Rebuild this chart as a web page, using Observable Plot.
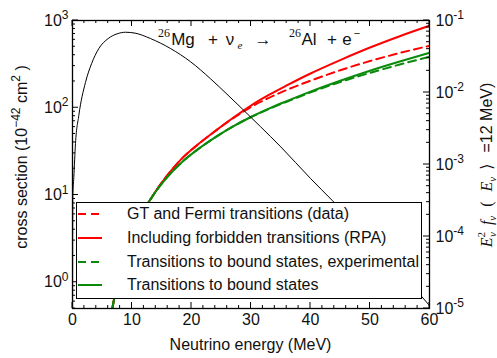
<!DOCTYPE html>
<html>
<head>
<meta charset="utf-8">
<script src="https://cdn.jsdelivr.net/npm/d3@7"></script>
<script src="https://cdn.jsdelivr.net/npm/@observablehq/plot@0.6"></script>
<style>
  body { margin: 0; background: white; }
  #chart { position: relative; width: 497px; height: 358px; font-family: "Liberation Sans", Arial, sans-serif; }
  #chart svg { position: absolute; left: 0; top: 0; }
  #legend { position: absolute; left: 76px; top: 202px; width: 346px; height: 97px; box-sizing: border-box;
            border: 1.5px solid black; background: white; font-size: 16px; color: #111; }
  .row { position: absolute; left: 0; height: 20px; line-height: 20px; white-space: nowrap; }
  .row svg { position: absolute; left: 9px; top: 0; }
  .row span { position: absolute; left: 50px; top: 0; }
</style>
</head>
<body>
<div id="chart"></div>
<script>
// ---- data ----
const energy        = [6.3, 6.7, 8, 10, 12, 13, 14, 16, 18.7, 21, 24.3, 27, 30, 33, 36, 40, 45, 50, 55, 60];
const gtFermiData   = [0.35, 0.50, 1.51, 3.98, 6.92, 8.71, 11.1, 17.0, 27.5, 37.5, 56.2, 75.9, 102, 130, 160, 204, 269, 343, 424, 513];
const forbiddenRPA  = [0.35, 0.50, 1.51, 3.98, 6.92, 8.71, 11.1, 17.0, 27.5, 37.6, 56.2, 76.7, 106, 140, 180, 247, 352, 490, 661, 871];
const boundExp      = [0.35, 0.50, 1.51, 3.98, 6.92, 8.71, 10.96, 16.2, 24.8, 33.1, 47.3, 61.1, 78.3, 96.6, 117, 150, 197, 251, 313, 385];
const boundStates   = [0.35, 0.50, 1.51, 3.98, 6.92, 8.71, 10.96, 16.2, 24.8, 33.1, 47.3, 61.1, 78.3, 97.7, 119, 153, 204, 266, 339, 427];

const specEnergy = [0.01, 0.05, 0.22, 0.5, 1.06, 2.18, 3.2, 4.42, 6, 7.5, 8.9, 10.5, 13.1, 16.5, 19.8, 23.2, 26.3, 28.5, 31.6, 35, 40, 43.6, 50, 55, 60];
const specFlux   = [1.0e-5, 3.55e-4, 6.6e-4, 1.95e-3, 4.79e-3, 0.0138, 0.0251, 0.0407, 0.0562, 0.0653, 0.0687, 0.0668, 0.0562, 0.0407, 0.0269, 0.0155, 0.00891, 0.00596, 0.00335, 0.00176, 6.4e-4, 3.2e-4, 9.2e-5, 3.25e-5, 1.1e-5];

const xTicks = [0, 10, 20, 30, 40, 50, 60];
const yLeftTicks = [1, 10, 100, 1000];
const yRightTicks = [1e-5, 1e-4, 1e-3, 1e-2, 1e-1];

const legendLabels = [
  "GT and Fermi transitions (data)",
  "Including forbidden transitions (RPA)",
  "Transitions to bound states, experimental",
  "Transitions to bound states"
];
const RED = "#ff0000", GREEN = "#0a8a0a";
const legendStyles = [
  {stroke: RED, dash: "8,5"}, {stroke: RED, dash: null},
  {stroke: GREEN, dash: "8,5"}, {stroke: GREEN, dash: null}
];

// ---- build tables ----
const mk = (vals) => energy.map((e, i) => ({e, v: vals[i]}));
const spec = specEnergy.map((e, i) => ({e, v: specFlux[i]}));

const W = 497, H = 358, ML = 72, MR = 68, MT = 20, MB = 50;
const font = '"Liberation Sans", Arial, sans-serif';
const expFmt = d => String(Math.round(Math.log10(d)));

const p1 = Plot.plot({
  width: W, height: H, marginLeft: ML, marginRight: MR, marginTop: MT, marginBottom: MB,
  style: {background: "transparent", fontFamily: font, fontSize: "16px", color: "#111", overflow: "visible"},
  x: {domain: [0, 60]},
  y: {type: "log", domain: [0.5, 1000]},
  marks: [
    Plot.axisX({ticks: xTicks, tickSize: 0, tickPadding: 5, label: null, tickFormat: d => String(d)}),
    Plot.axisY({ticks: yLeftTicks, tickSize: 0, tickPadding: 13, label: null, tickFormat: expFmt}),
    Plot.line(mk(forbiddenRPA), {x: "e", y: "v", stroke: RED, strokeWidth: 2, curve: "monotone-x", clip: true}),
    Plot.line(mk(gtFermiData), {x: "e", y: "v", stroke: RED, strokeWidth: 2, strokeDasharray: "8,5", curve: "monotone-x", clip: true}),
    Plot.line(mk(boundExp), {x: "e", y: "v", stroke: GREEN, strokeWidth: 2, strokeDasharray: "8,5", curve: "monotone-x", clip: true}),
    Plot.line(mk(boundStates), {x: "e", y: "v", stroke: GREEN, strokeWidth: 2, curve: "monotone-x", clip: true}),
    Plot.frame({stroke: "black", strokeWidth: 1.3})
  ]
});

const p2 = Plot.plot({
  width: W, height: H, marginLeft: ML, marginRight: MR, marginTop: MT, marginBottom: MB,
  style: {background: "transparent", fontFamily: font, fontSize: "16px", color: "#111", overflow: "visible"},
  x: {domain: [0, 60], axis: null},
  y: {type: "log", domain: [1e-5, 1e-1]},
  marks: [
    Plot.axisY({anchor: "right", ticks: yRightTicks, tickSize: 0, tickPadding: 6, label: null, tickFormat: expFmt}),
    Plot.line(spec, {x: "e", y: "v", stroke: "black", strokeWidth: 1, curve: "monotone-x", clip: true})
  ]
});

const chart = document.getElementById("chart");
chart.appendChild(p1);
chart.appendChild(p2);

// superscript exponents on tick labels: "10" + raised exponent
function supTicks(svg) {
  d3.select(svg).selectAll('g[aria-label="y-axis tick label"] text').each(function() {
    const t = d3.select(this);
    const e = t.text();
    t.text("10");
    t.append("tspan").attr("dy", "-0.55em").attr("font-size", "12px").text(e);
  });
}
supTicks(p1);
supTicks(p2);
d3.select(p1).selectAll('g[aria-label="y-axis tick label"] text').attr("text-anchor", "end").attr("dx", 9);

// ---- inward tick marks using the plots' scales ----
const sx = p1.scale("x"), sy = p1.scale("y"), sy2 = p2.scale("y");
const [x0, x1] = sx.range, [yb, yt] = sy.range;
const g1 = d3.select(p1).append("g").attr("stroke", "black").attr("stroke-width", 1);
const xMinor = d3.range(0, 61, 2).filter(v => v % 10 !== 0);
function vt(v, len) {
  const X = sx.apply(v);
  g1.append("line").attr("x1", X).attr("x2", X).attr("y1", yb).attr("y2", yb - len);
  g1.append("line").attr("x1", X).attr("x2", X).attr("y1", yt).attr("y2", yt + len);
}
xTicks.forEach(v => vt(v, 6));
xMinor.forEach(v => vt(v, 3));
const leftMinor = [];
[0.1, 1, 10, 100].forEach(d => { for (let k = 2; k <= 9; k++) { const v = k * d; if (v >= 0.5 && v < 1000) leftMinor.push(v); } });
yLeftTicks.forEach(v => { const Y = sy.apply(v); g1.append("line").attr("x1", x0).attr("x2", x0 + 6).attr("y1", Y).attr("y2", Y); });
leftMinor.forEach(v => { const Y = sy.apply(v); g1.append("line").attr("x1", x0).attr("x2", x0 + 3).attr("y1", Y).attr("y2", Y); });
const g2 = d3.select(p2).append("g").attr("stroke", "black").attr("stroke-width", 1);
const rightMinor = [];
[1e-5, 1e-4, 1e-3, 1e-2].forEach(d => { for (let k = 2; k <= 9; k++) rightMinor.push(k * d); });
yRightTicks.forEach(v => { const Y = sy2.apply(v); g2.append("line").attr("x1", x1).attr("x2", x1 - 6).attr("y1", Y).attr("y2", Y); });
rightMinor.forEach(v => { const Y = sy2.apply(v); g2.append("line").attr("x1", x1).attr("x2", x1 - 3).attr("y1", Y).attr("y2", Y); });

// ---- texts ----
const s2 = d3.select(p2);
const serif = '"Liberation Serif", "Times New Roman", serif';
function txt(x, y, str, o = {}) {
  const t = s2.append("text").attr("x", x).attr("y", y).attr("font-size", o.size || 17)
    .attr("font-family", o.family || font).attr("fill", "#111").text(str);
  if (o.italic) t.attr("font-style", "italic");
  return t;
}
// reaction title
txt(164, 37, "26", {size: 12, family: serif});
txt(183, 45, "Mg");
txt(213, 45, "+");
txt(230, 45, "ν");
txt(240, 49, "e", {size: 11, family: serif, italic: true});
txt(263, 45, "→");
txt(295, 37, "26", {size: 12, family: serif});
txt(309, 45, "Al");
txt(332, 45, "+");
txt(347, 45, "e");
txt(357, 37, "−", {size: 11});

// x axis label
s2.append("text").attr("x", (x0 + x1) / 2).attr("y", 350).attr("text-anchor", "middle")
  .attr("font-size", 16).attr("font-family", font).attr("fill", "#111").text("Neutrino energy (MeV)");

// left axis label
const ly = s2.append("text").attr("transform", "translate(27,157) rotate(-90)").attr("text-anchor", "middle")
  .attr("font-size", 16).attr("font-family", font).attr("fill", "#111");
ly.append("tspan").text("cross section (10");
ly.append("tspan").attr("dy", -7).attr("font-size", 12).text("−42");
ly.append("tspan").attr("dy", 7).text(" cm");
ly.append("tspan").attr("dy", -7).attr("font-size", 12).text("2");
ly.append("tspan").attr("dy", 7).text(" )");

// right axis label
const ry = s2.append("text").attr("transform", "translate(492,165) rotate(-90)").attr("text-anchor", "middle")
  .attr("font-size", 16).attr("font-family", font).attr("fill", "#111");
ry.append("tspan").attr("font-family", serif).attr("font-style", "italic").text("E");
ry.append("tspan").attr("font-family", serif).attr("font-size", 11).attr("dy", -7).text("2");
ry.append("tspan").attr("font-family", serif).attr("font-style", "italic").attr("font-size", 11).attr("dx", -5).attr("dy", 11).text("ν");
ry.append("tspan").attr("font-family", serif).attr("font-style", "italic").attr("dy", -4).attr("dx", 7).text("f");
ry.append("tspan").attr("font-family", serif).attr("font-style", "italic").attr("font-size", 11).attr("dy", 4).text("ν");
ry.append("tspan").attr("font-family", serif).attr("dy", -4).attr("dx", 9).text("(");
ry.append("tspan").attr("font-family", serif).attr("font-style", "italic").attr("dx", 10).text("E");
ry.append("tspan").attr("font-family", serif).attr("font-style", "italic").attr("font-size", 11).attr("dy", 4).text("ν");
ry.append("tspan").attr("font-family", '"DejaVu Serif", serif').attr("dy", -4).attr("dx", 7).text("⟩");
ry.append("tspan").attr("dx", 11).text("=12 MeV)");

// ---- legend ----
const leg = document.createElement("div");
leg.id = "legend";
const rowTops = [1, 25, 49, 72];
legendLabels.forEach((lab, i) => {
  const row = document.createElement("div");
  row.className = "row";
  row.style.top = rowTops[i] + "px";
  const st = legendStyles[i];
  row.innerHTML = `<svg width="26" height="20"><line x1="1" x2="25" y1="10" y2="10" stroke="${st.stroke}" stroke-width="2" ${st.dash ? `stroke-dasharray="${st.dash}"` : ""}/></svg><span>${lab}</span>`;
  leg.appendChild(row);
});
chart.appendChild(leg);
</script>
</body>
</html>
